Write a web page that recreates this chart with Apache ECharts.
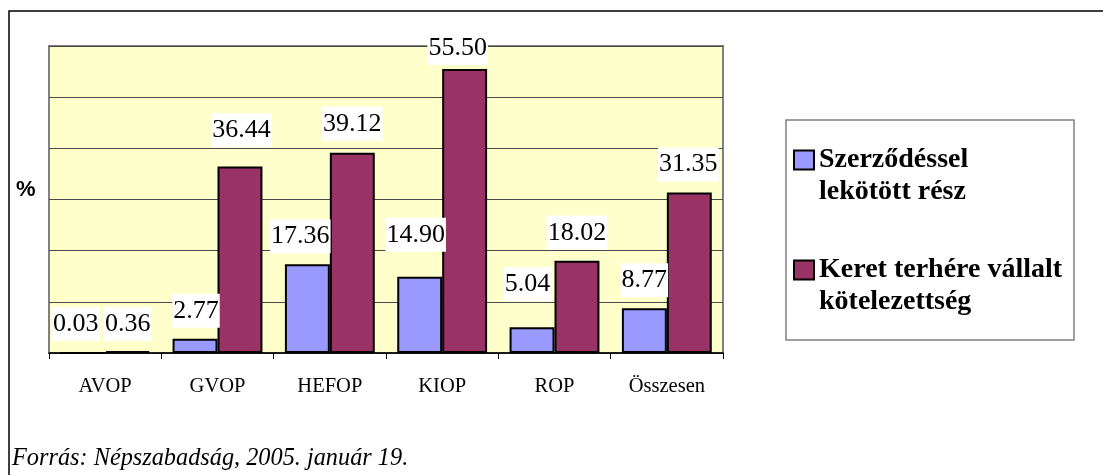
<!DOCTYPE html>
<html>
<head>
<meta charset="utf-8">
<script src="https://cdn.jsdelivr.net/npm/echarts@6/dist/echarts.min.js"></script>
<style>
  html, body { margin: 0; padding: 0; background: #fff; }
  #chart { width: 1103px; height: 475px; }
</style>
</head>
<body>
<div id="chart"></div>
<script>
const categories = ['AVOP', 'GVOP', 'HEFOP', 'KIOP', 'ROP', 'Összesen'];
const seriesNames = ['Szerződéssel\nlekötött rész', 'Keret terhére vállalt\nkötelezettség'];
const contracted = [0.03, 2.77, 17.36, 14.90, 5.04, 8.77];
const committed = [0.36, 36.44, 39.12, 55.50, 18.02, 31.35];
const yMin = 0, yMax = 60, yStep = 10;
const axisUnit = '%';
const sourceNote = 'Forrás: Népszabadság, 2005. január 19.';

// label placement tweaks (Excel-style label positions), [dx, distance]
const labelTweakA = [[-7, 11], [1, 11], [-7, 11], [-4, 25], [-4.5, 26], [0, 11]];
const labelTweakB = [[0, 10], [1.5, 19], [0, 12], [-7, 4], [0, 11], [-1, 11]];

const serif = '"Liberation Serif", "Times New Roman", serif';
const labelBase = {
  show: true,
  position: 'top',
  fontFamily: serif,
  fontSize: 26,
  color: '#000',
  backgroundColor: '#fff',
  padding: [4, 1, 4, 1],
  lineHeight: 26,
  formatter: p => p.value.toFixed(2)
};

function buildData(vals, tweaks) {
  return vals.map((v, i) => ({
    value: v,
    label: { offset: [tweaks[i][0], 0], distance: tweaks[i][1] }
  }));
}

const chart = echarts.init(document.getElementById('chart'), null, { renderer: 'canvas' });
chart.setOption({
  animation: false,
  backgroundColor: '#fff',
  textStyle: { fontFamily: serif },
  grid: {
    left: 49, top: 46, right: 380, bottom: 122,
    show: true,
    backgroundColor: '#FFFFCC',
    borderColor: '#808080',
    borderWidth: 2,
    containLabel: false
  },
  xAxis: {
    type: 'category',
    data: categories,
    axisLine: { lineStyle: { color: '#000', width: 1.5 } },
    axisTick: { show: true, length: 6, lineStyle: { color: '#000', width: 1 } },
    axisLabel: { fontFamily: serif, fontSize: 20.5, color: '#000', margin: 23 },
    splitLine: { show: false }
  },
  yAxis: {
    type: 'value',
    min: yMin, max: yMax, interval: yStep,
    axisLine: { show: false },
    axisTick: { show: false },
    axisLabel: { show: false },
    splitLine: { lineStyle: { color: '#4a4a4a', width: 1 } }
  },
  legend: {
    orient: 'vertical',
    left: 793,
    top: 112,
    padding: 0,
    itemGap: 14,
    itemWidth: 20,
    itemHeight: 19,
    selectedMode: false,
    formatter: name => '\n' + name,
    textStyle: {
      fontFamily: serif,
      fontWeight: 'bold',
      fontSize: 28,
      lineHeight: 32,
      color: '#000'
    },
    data: seriesNames.map(n => ({ name: n, icon: 'rect' }))
  },
  series: [
    {
      name: seriesNames[0],
      type: 'bar',
      barGap: '0%',
      barCategoryGap: '20%',
      itemStyle: { color: '#9999FF', borderColor: '#000', borderWidth: 2 },
      label: labelBase,
      data: buildData(contracted, labelTweakA)
    },
    {
      name: seriesNames[1],
      type: 'bar',
      barGap: '0%',
      barCategoryGap: '20%',
      itemStyle: { color: '#993366', borderColor: '#000', borderWidth: 2 },
      label: labelBase,
      data: buildData(committed, labelTweakB)
    }
  ],
  graphic: [
    {
      type: 'rect', silent: true, z: -1,
      shape: { x: 9, y: 11, width: 1200, height: 600 },
      style: { fill: 'none', stroke: '#000', lineWidth: 1.5 }
    },
    {
      type: 'rect', silent: true, z: -1,
      shape: { x: 786, y: 120, width: 288, height: 220 },
      style: { fill: '#fff', stroke: '#808080', lineWidth: 1.5 }
    },
    {
      type: 'text', left: 16, top: 179,
      style: { text: axisUnit, fontFamily: '"Liberation Sans", Arial, sans-serif', fontWeight: 'bold', fontSize: 22, fill: '#000' }
    },
    {
      type: 'text', left: 12, top: 447,
      style: { text: sourceNote, fontFamily: serif, fontStyle: 'italic', fontSize: 24.3, fill: '#000' }
    }
  ]
});
</script>
</body>
</html>
